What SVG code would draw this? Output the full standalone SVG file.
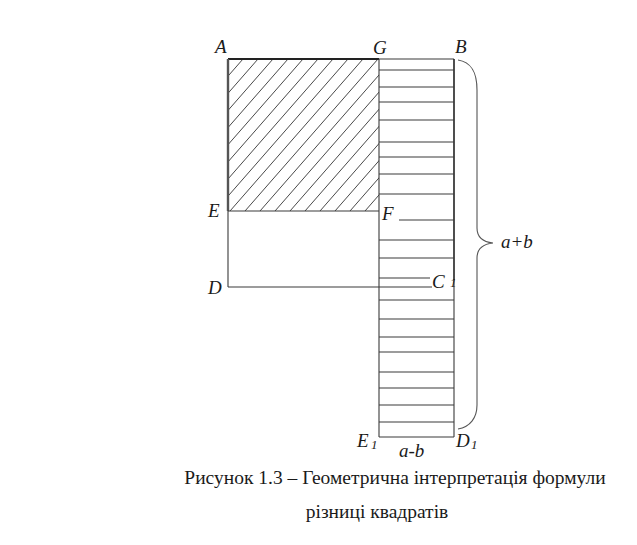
<svg xmlns="http://www.w3.org/2000/svg" width="637" height="545" viewBox="0 0 637 545">
<style>
.ln{stroke:#3a3a3a;stroke-width:1.1;fill:none}
.thick{stroke:#222;stroke-width:2.2;fill:none}
.hatch{stroke:#333;stroke-width:0.9}
.lbl{font-family:"Liberation Serif","Times New Roman",serif;font-style:italic;font-size:19px;fill:#1a1a1a}
.sub{font-family:"Liberation Serif","Times New Roman",serif;font-style:italic;font-size:13px;fill:#1a1a1a}
.cap{font-family:"Liberation Serif","Times New Roman",serif;font-size:19.5px;fill:#1a1a1a}
</style>
<defs>
<clipPath id="sq"><rect x="228" y="59" width="151" height="152"/></clipPath>
</defs>
<rect width="637" height="545" fill="#fff"/>
<g id="hatched-square">
<g clip-path="url(#sq)">
<path class="hatch" d="M243,59L110,211M258,59L125,211M273,59L140,211M288,59L155,211M303,59L170,211M318,59L185,211M333,59L200,211M348,59L215,211M363,59L230,211M378,59L245,211M393,59L260,211M408,59L275,211M423,59L290,211M438,59L305,211M453,59L320,211M468,59L335,211M483,59L350,211M498,59L365,211M513,59L380,211M228,59L95,211"/>
</g>
<line class="thick" x1="228" y1="59" x2="379" y2="59"/>
<line class="ln" x1="228" y1="59" x2="228" y2="211" style="stroke-width:2.4;stroke:#555"/>
<line class="ln" x1="228" y1="211" x2="379" y2="211"/>
</g>
<g id="lower-rect">
<line class="ln" x1="228" y1="211" x2="228" y2="287"/>
<line class="ln" x1="228" y1="287" x2="432" y2="287"/>
</g>
<g id="strip">
<line class="ln" x1="379" y1="59" x2="454" y2="59"/>
<line class="ln" x1="379" y1="59" x2="379" y2="437"/>
<line class="ln" x1="454" y1="59" x2="454" y2="280" style="stroke-width:1.6;stroke:#222"/>
<line class="ln" x1="454" y1="280" x2="454" y2="437"/>
<line class="ln" x1="379" y1="437" x2="454" y2="437"/>
<path class="ln" d="M379,70H454M379,87H454M379,102H454M379,120H454M379,142H454M379,157H454M379,174H454M379,194H454M399,220H454M379,240H454M379,258H454M379,278H430M379,300H454M379,319H454M379,337H454M379,352H454M379,372H454M379,388H454M379,405H454M379,422H454"/>
</g>
<g id="brace">
<path class="ln" d="M458,60C470,62 477,70 477,90L477,228C477,238 484,242 493,243C484,244 477,248 477,258L477,405C477,418 470,427 458,429" style="stroke:#555"/>
</g>
<g id="labels">
<text class="lbl" x="215" y="53">A</text>
<text class="lbl" x="373" y="54">G</text>
<text class="lbl" x="455" y="53">B</text>
<text class="lbl" x="208" y="217">E</text>
<text class="lbl" x="382" y="220">F</text>
<text class="lbl" x="208" y="294">D</text>
<text class="lbl" x="432" y="288">C</text>
<text class="sub" x="450" y="287">1</text>
<text class="lbl" x="357" y="447">E</text>
<text class="sub" x="371" y="449">1</text>
<text class="lbl" x="456" y="447">D</text>
<text class="sub" x="471" y="449">1</text>
<text class="lbl" x="399" y="457">a-b</text>
<text class="lbl" x="501" y="248">a+b</text>
</g>
<g id="caption">
<text class="cap" x="395" y="484" text-anchor="middle">Рисунок 1.3 – Геометрична інтерпретація формули</text>
<text class="cap" x="377" y="518" text-anchor="middle">різниці квадратів</text>
</g>
</svg>
